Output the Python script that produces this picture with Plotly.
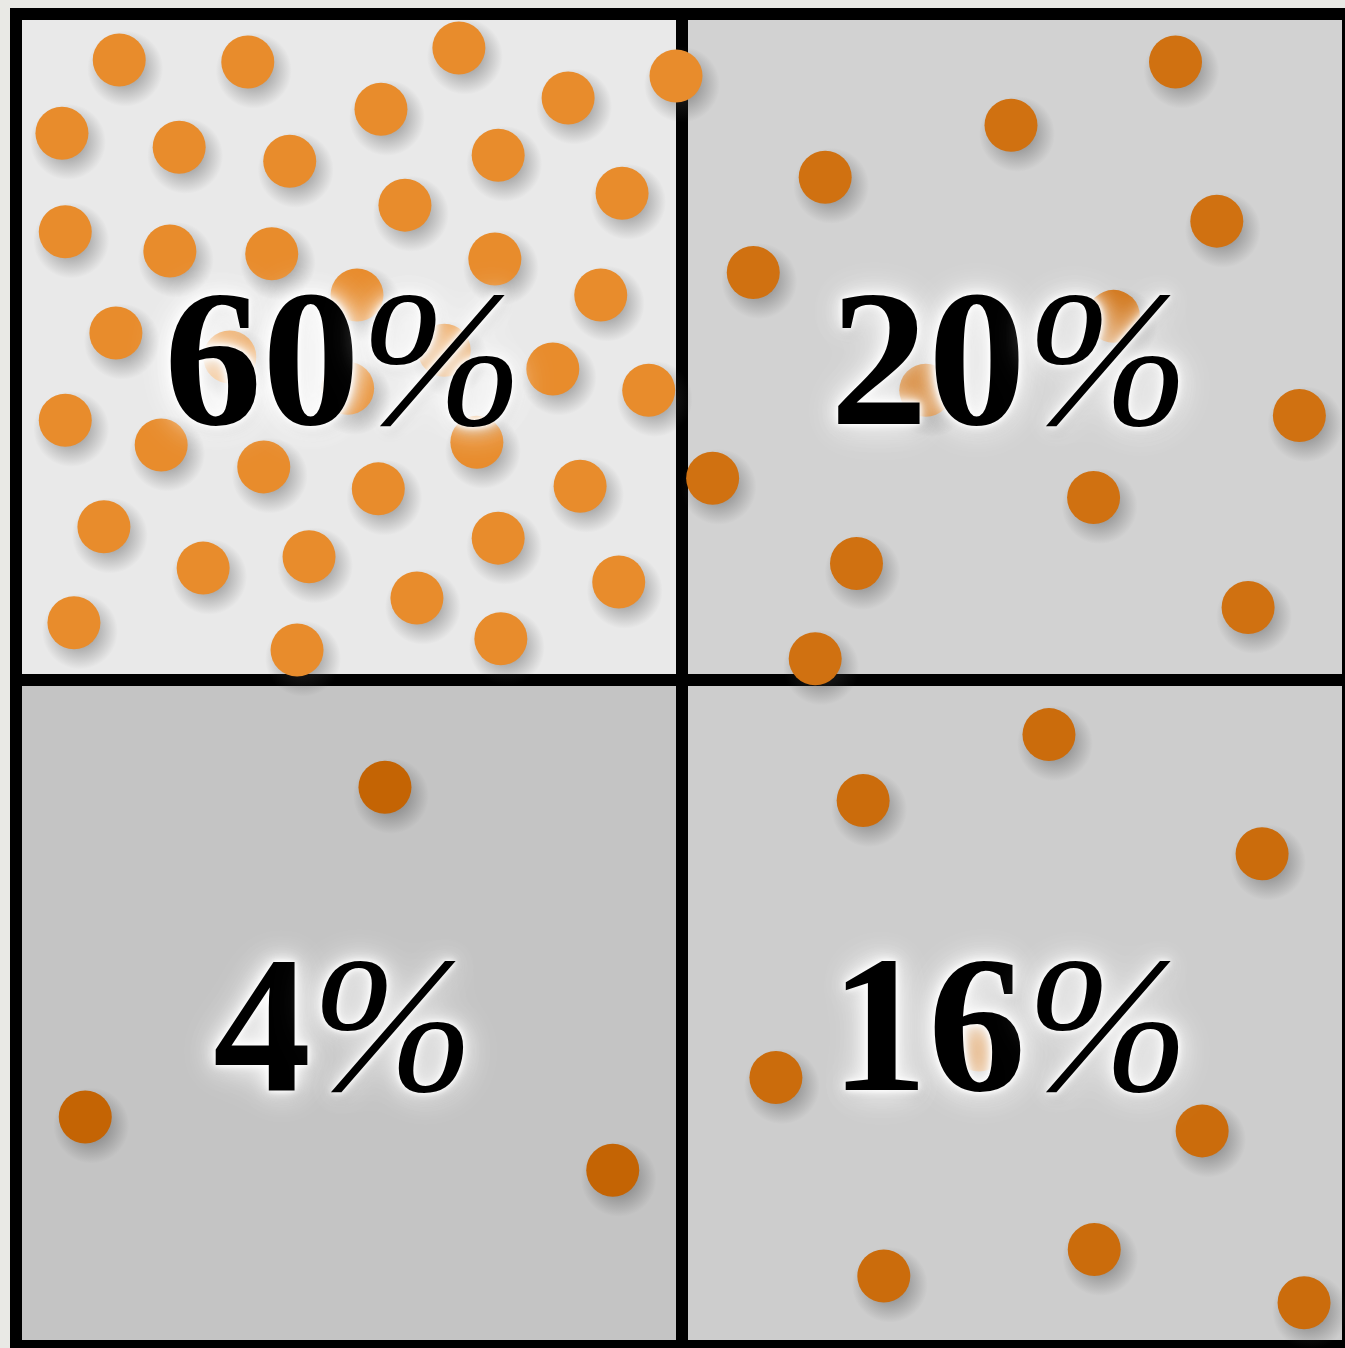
import plotly.graph_objects as go

# ---- data ----
cell_labels = ["60%", "20%", "4%", "16%"]
cell_cx = [50, 150, 50, 150]
cell_cy = [50, 50, 150, 150]

tl_x = [15.5, 34.8, 66.5, 99.1, 82.9, 54.8, 6.9, 24.5, 41.1, 72.4, 91.0, 58.4, 7.4,
        23.1, 38.4, 71.9, 51.2, 87.8, 15.0, 32.1, 64.3, 80.6, 49.8, 95.0, 7.4, 21.8,
        69.2, 37.2, 54.4, 84.7, 13.2, 72.4, 44.0, 28.1, 90.5, 60.2, 8.7, 72.8, 42.2]
tl_y = [6.9, 7.2, 5.1, 9.3, 12.6, 14.3, 17.9, 20.0, 22.1, 21.2, 26.9, 28.7, 32.7,
        35.6, 36.0, 36.8, 42.2, 42.2, 47.9, 51.5, 50.5, 53.3, 56.2, 56.5, 61.0, 64.7,
        64.3, 68.0, 71.3, 70.9, 77.0, 78.7, 81.5, 83.2, 85.3, 87.7, 91.4, 93.8, 95.5]

tr_x = [174.1, 149.4, 121.5, 180.3, 110.7, 164.8, 136.6, 192.7, 104.6, 161.8, 126.2, 185.0, 120.0]
tr_y = [7.2, 16.7, 24.5, 31.1, 38.8, 45.4, 56.5, 60.3, 69.7, 72.6, 82.5, 89.1, 96.8]

bl_x = [55.4, 10.4, 89.6]
bl_y = [116.1, 165.6, 173.6]

br_x = [155.1, 127.2, 187.1, 114.1, 144.6, 178.1, 161.9, 130.3, 193.4]
br_y = [108.2, 118.1, 126.1, 159.7, 154.8, 167.7, 185.5, 189.5, 193.5]

# ---- style ----
cell_fill = ["#e9e9e9", "#d2d2d2", "#c4c4c4", "#cdcdcd"]
dot_color = ["#e88c2c", "#d07111", "#c46404", "#cb6c0c"]
groups = [(tl_x, tl_y), (tr_x, tr_y), (bl_x, bl_y), (br_x, br_y)]

fig = go.Figure()

# soft shadows (transparent edge, darker centre)
for (xs, ys) in groups:
    fig.add_trace(go.Scatter(
        x=[v + 0.9 for v in xs], y=[v + 1.3 for v in ys], mode="markers",
        marker=dict(size=76, color="rgba(60,60,60,0)",
                    gradient=dict(type="radial", color="rgba(60,60,60,0.6)"),
                    line=dict(width=0)),
        hoverinfo="skip", showlegend=False))

# dots
for (xs, ys), c in zip(groups, dot_color):
    fig.add_trace(go.Scatter(
        x=xs, y=ys, mode="markers",
        marker=dict(size=53, color=c, line=dict(width=0)),
        hoverinfo="skip", showlegend=False))

shapes = []
cells = [(0, 0), (100, 0), (0, 100), (100, 100)]
for (x0, y0), f in zip(cells, cell_fill):
    shapes.append(dict(type="rect", xref="x", yref="y", x0=x0, x1=x0 + 100, y0=y0, y1=y0 + 100,
                       fillcolor=f, line=dict(width=0), layer="below"))
ext = 0.9
for v in [0, 100, 200]:
    shapes.append(dict(type="line", xref="x", yref="y", x0=v, x1=v, y0=-ext, y1=200 + ext,
                       line=dict(color="black", width=12), layer="below"))
    shapes.append(dict(type="line", xref="x", yref="y", x0=-ext, x1=200 + ext, y0=v, y1=v,
                       line=dict(color="black", width=12), layer="below"))

annotations = []
for lab, cx, cy in zip(cell_labels, cell_cx, cell_cy):
    num = lab[:-1]
    annotations.append(dict(
        x=cx - 0.8, y=cy + 1.6, xref="x", yref="y", showarrow=False,
        text="<b>" + num + "</b><i>%</i>",
        font=dict(family="Liberation Serif", size=196, color="black",
                  shadow="0px 0px 5px #ffffff, 0px 0px 10px #ffffff, 0px 0px 18px #ffffff, 0px 0px 30px rgba(255,255,255,0.9), 0px 0px 44px rgba(255,255,255,0.6), 3px 6px 12px rgba(0,0,0,0.15)"),
        xanchor="center", yanchor="middle"))

fig.update_layout(
    width=1345, height=1348,
    margin=dict(l=0, r=0, t=0, b=0),
    paper_bgcolor="#e9e9e5", plot_bgcolor="#e9e9e5",
    xaxis=dict(range=[-16 / 6.66, 1329 / 6.66], visible=False, fixedrange=True),
    yaxis=dict(range=[1334 / 6.66, -14 / 6.66], visible=False, fixedrange=True),
    shapes=shapes, annotations=annotations, showlegend=False,
)

fig.write_html("out.html")
